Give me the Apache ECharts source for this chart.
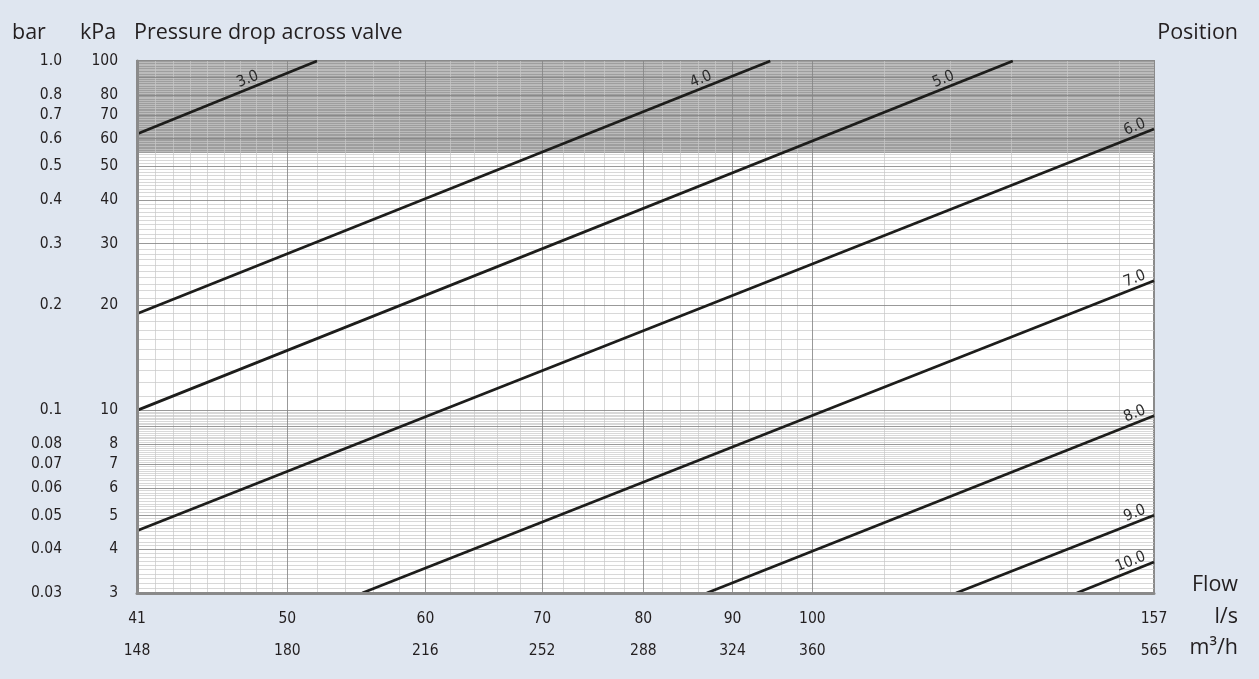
<!DOCTYPE html>
<html><head><meta charset="utf-8">
<script src="https://cdn.jsdelivr.net/npm/echarts@6/dist/echarts.min.js"></script>
<style>html,body{margin:0;padding:0;background:#dfe6f0;} #c{width:1259px;height:679px;}</style>
</head><body><div id="c"></div>
<script>
// ---- data ----
const positions = ['3.0', '4.0', '5.0', '6.0', '7.0', '8.0', '9.0', '10.0'];
const startFlow = [41, 41, 41, 41, 55.2, 87.0, 120.9, 141.8];     // l/s
const startDp   = [61.8, 18.9, 10.0, 4.52, 3, 3, 3, 3];           // kPa
const endFlow   = [52.0, 94.6, 130.3, 157, 157, 157, 157, 157];   // l/s
const endDp     = [100, 100, 100, 63.9, 23.5, 9.65, 5.01, 3.68];  // kPa

const kpaTicks  = [3, 4, 5, 6, 7, 8, 10, 20, 30, 40, 50, 60, 70, 80, 100];
const barTicks  = ['0.03','0.04','0.05','0.06','0.07','0.08','0.1','0.2','0.3','0.4','0.5','0.6','0.7','0.8','1.0'];
const flowTicks = [41, 50, 60, 70, 80, 90, 100, 157];
const m3hTicks  = [148, 180, 216, 252, 288, 324, 360, 565];
const shadedFrom = 54.5; // kPa, lower edge of the grey band

const xGridMinor = [42,43,44,45,46,47,48,49,52,54,56,58,62,64,66,68,72,74,76,78,82,84,86,88,92,94,96,98,110,120,130,140,150];
const xGridMajor = [50, 60, 70, 80, 90, 100];
const yGridMajor = [4, 5, 6, 7, 8, 9, 10, 20, 30, 40, 50, 60, 70, 80, 90];

const xMin = 41, xMax = 157, yMin = 3, yMax = 100;

// minor horizontal grid: 0.1 steps below 10 kPa, 1 kPa steps above
const yGridMinor = [];
for (let i = 31; i < 100; i++) { if (i % 10) yGridMinor.push(i / 10); }
for (let i = 11; i < 100; i++) { if (i % 10) yGridMinor.push(i); }

const nearestIdx = (arr, v) => {
  let b = 0; for (let i = 1; i < arr.length; i++) if (Math.abs(arr[i] - v) < Math.abs(arr[b] - v)) b = i; return b;
};

const FONT = "'Open Sans', 'Noto Sans', sans-serif";
const NARROW = "'Liberation Sans Narrow', 'DejaVu Sans Condensed', 'Open Sans', sans-serif";
const TXT = '#231f20';

const titleStyle = { fontSize: 21.5, fontWeight: 'normal', color: TXT, fontFamily: FONT, lineHeight: 24 };
const mkTitle = (text, pos) => Object.assign({ text, padding: 0, textStyle: titleStyle }, pos);

const curveSeries = positions.map((p, i) => ({
  type: 'line',
  name: p,
  z: 4,
  silent: true,
  symbol: 'circle',
  symbolSize: 0,
  showSymbol: true,
  lineStyle: { color: '#1d1d1b', width: 2.8 },
  itemStyle: { color: '#1d1d1b' },
  label: {
    show: false,
    formatter: p,
    position: 'inside',
    rotate: 22,
    align: 'right',
    verticalAlign: 'bottom',
    offset: endDp[i] >= yMax ? [-60, -1] : [-6, -1],
    fontSize: 15.5,
    fontFamily: NARROW,
    color: '#2b2b2b'
  },
  data: [[startFlow[i], startDp[i]], { value: [endFlow[i], endDp[i]], label: { show: true } }]
}));

const axisLineStyle = { color: '#8a8a8a', width: 3 };
const tickFont = { fontSize: 15.5, fontFamily: NARROW, color: TXT };

const option = {
  animation: false,
  backgroundColor: '#dfe6f0',
  title: [
    mkTitle('bar', { left: 12, top: 21 }),
    mkTitle('kPa', { left: 80, top: 21 }),
    mkTitle('Pressure drop across valve', { left: 134, top: 21 }),
    mkTitle('Position', { right: 21, top: 21 }),
    mkTitle('Flow', { right: 21, top: 573 }),
    mkTitle('l/s', { right: 21, top: 605 }),
    mkTitle('m³/h', { right: 21, top: 636 })
  ],
  grid: {
    left: 137, right: 105, top: 61, bottom: 86,
    show: true, backgroundColor: '#ffffff', borderColor: '#8a8a8a', borderWidth: 2,
    outerBoundsMode: 'none', containLabel: false
  },
  xAxis: [
    {
      type: 'log', logBase: 10, min: xMin, max: xMax, z: 6,
      axisLine: { show: true, lineStyle: axisLineStyle },
      axisTick: { show: false }, splitLine: { show: false }, minorSplitLine: { show: false },
      axisLabel: Object.assign({
        customValues: flowTicks, margin: 18,
        formatter: v => String(flowTicks[nearestIdx(flowTicks, v)])
      }, tickFont)
    },
    {
      type: 'log', logBase: 10, min: xMin, max: xMax, position: 'bottom', z: 6,
      axisLine: { show: false }, axisTick: { show: false }, splitLine: { show: false },
      axisLabel: Object.assign({
        customValues: flowTicks, margin: 50,
        formatter: v => String(m3hTicks[nearestIdx(flowTicks, v)])
      }, tickFont)
    }
  ],
  yAxis: [
    {
      type: 'log', logBase: 10, min: yMin, max: yMax, position: 'left', z: 6,
      axisLine: { show: true, lineStyle: axisLineStyle },
      axisTick: { show: false }, splitLine: { show: false },
      axisLabel: Object.assign({
        customValues: kpaTicks, margin: 19,
        formatter: v => String(kpaTicks[nearestIdx(kpaTicks, v)])
      }, tickFont)
    },
    {
      type: 'log', logBase: 10, min: yMin, max: yMax, position: 'left', z: 6,
      axisLine: { show: false }, axisTick: { show: false }, splitLine: { show: false },
      axisLabel: Object.assign({
        customValues: kpaTicks, margin: 75,
        formatter: v => barTicks[nearestIdx(kpaTicks, v)]
      }, tickFont)
    }
  ],
  series: [
    {
      type: 'line', data: [], silent: true,
      markArea: {
        silent: true, z: 1,
        itemStyle: { color: '#9e9e9e' },
        data: [[{ yAxis: shadedFrom }, { yAxis: yMax }]]
      }
    },
    {
      type: 'line', data: [], silent: true,
      markLine: {
        silent: true, z: 2, symbol: ['none', 'none'], label: { show: false },
        lineStyle: { color: 'rgba(200,200,200,0.7)', width: 1, type: 'solid' },
        emphasis: { disabled: true },
        data: [...xGridMinor.map(v => ({ xAxis: v })), ...yGridMinor.map(v => ({ yAxis: v }))]
      }
    },
    {
      type: 'line', data: [], silent: true,
      markLine: {
        silent: true, z: 3, symbol: ['none', 'none'], label: { show: false },
        lineStyle: { color: 'rgba(134,134,134,0.84)', width: 1, type: 'solid' },
        emphasis: { disabled: true },
        data: [...xGridMajor.map(v => ({ xAxis: v })), ...yGridMajor.map(v => ({ yAxis: v }))]
      }
    },
    ...curveSeries
  ]
};

const chart = echarts.init(document.getElementById('c'), null, { renderer: 'canvas' });
chart.setOption(option);
</script>
</body></html>
